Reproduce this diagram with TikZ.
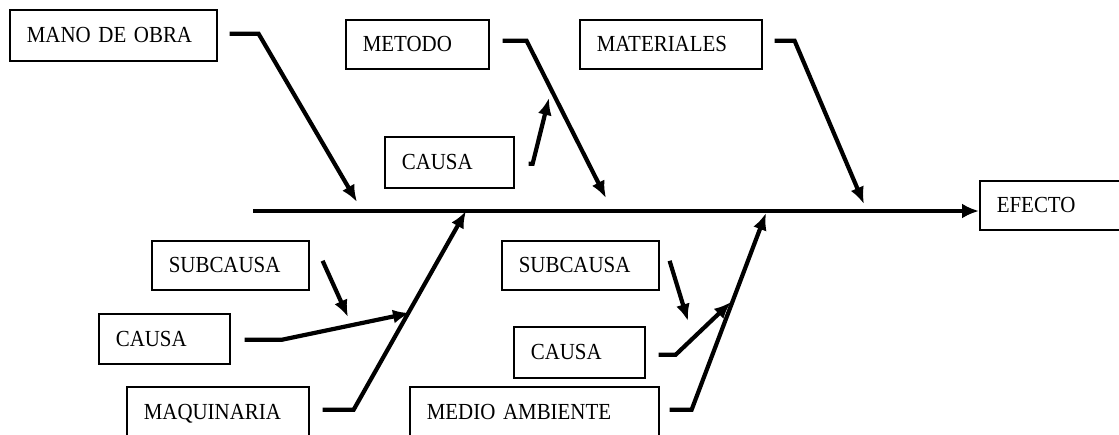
\documentclass[tikz,border=0pt]{standalone}
\usepackage{fontspec}
\setmainfont[FakeStretch=0.91]{Liberation Serif}
\usetikzlibrary{arrows.meta}
\tikzset{
  box/.style={draw, line width=1.6pt, anchor=north west, inner xsep=17pt, inner ysep=0pt,
    text height=15.2pt, text depth=0pt, align=left,
    font=\fontsize{23}{26}\selectfont},
  conn/.style={line width=4.2pt, line join=miter, -{Latex[length=17pt,width=14pt]}},
  spine/.style={line width=4.5pt, -{Latex[length=17pt,width=15pt]}}
}
\begin{document}
\begin{tikzpicture}[x=1pt,y=-1pt]
\useasboundingbox (0,0) rectangle (1119,434);
% boxes
\node[box, text width=173pt, minimum height=51pt] (mano) at (9,9) {MANO DE OBRA};
\node[box, text width=109pt, minimum height=49pt] (metodo) at (345,19) {METODO};
\node[box, text width=95pt, minimum height=51pt] (causaA) at (384,136) {CAUSA};
\node[box, text width=148pt, minimum height=49pt] (materiales) at (579,19) {MATERIALES};
\node[box, text width=117pt, minimum height=49pt] (efecto) at (979,180) {EFECTO};
\node[box, text width=123pt, minimum height=49pt] (subA) at (151,240) {SUBCAUSA};
\node[box, text width=97pt, minimum height=50pt] (causaB) at (98,313) {CAUSA};
\node[box, text width=148pt, minimum height=50pt] (maq) at (126,386) {MAQUINARIA};
\node[box, text width=123pt, minimum height=49pt] (subB) at (501,240) {SUBCAUSA};
\node[box, text width=97pt, minimum height=51pt] (causaC) at (513,326) {CAUSA};
\node[box, text width=215pt, minimum height=50pt] (medio) at (409,386) {MEDIO AMBIENTE};
% coordinates
\coordinate (s0) at (253,211);
\coordinate (tMano) at (357,202);
\coordinate (tMetodo) at (606,198);
\coordinate (tMat) at (864,204);
\coordinate (tMaq) at (466,211);
\coordinate (tMedio) at (766,213);
\coordinate (tCausaA) at (549,98);
\coordinate (tCausaB) at (410,313);
\coordinate (tCausaC) at (731,302);
\coordinate (tSubA) at (348,317);
\coordinate (tSubB) at (688,321);
% spine
\draw[spine] (s0) -- (efecto.west |- s0);
% main branches
\draw[conn] ([xshift=12pt,yshift=1.5pt]mano.east) -- ++(29,0) -- (tMano);
\draw[conn] ([xshift=13pt,yshift=3.5pt]metodo.east) -- ++(24,0) -- (tMetodo);
\draw[conn] ([xshift=12pt,yshift=3.5pt]materiales.east) -- ++(20,0) -- (tMat);
\draw[conn] ([xshift=13pt,yshift=2pt]maq.west -| maq.east) -- ++(31,0) -- (tMaq);
\draw[conn] ([xshift=10pt,yshift=2pt]medio.west -| medio.east) -- ++(22,0) -- (tMedio);
% causes
\draw[conn] ([xshift=14pt,yshift=-1.5pt]causaA.east) -- ++(4,0) -- (tCausaA);
\draw[conn] ([xshift=14pt,yshift=-1pt]causaB.east) -- ++(37,0) -- (tCausaB);
\draw[conn] ([xshift=13pt,yshift=-2.5pt]causaC.east) -- ++(17,0) -- (tCausaC);
% subcauses
\draw[conn] ([xshift=13pt,yshift=4.5pt]subA.east) -- (tSubA);
\draw[conn] ([xshift=10pt,yshift=4.5pt]subB.east) -- (tSubB);
\end{tikzpicture}
\end{document}
